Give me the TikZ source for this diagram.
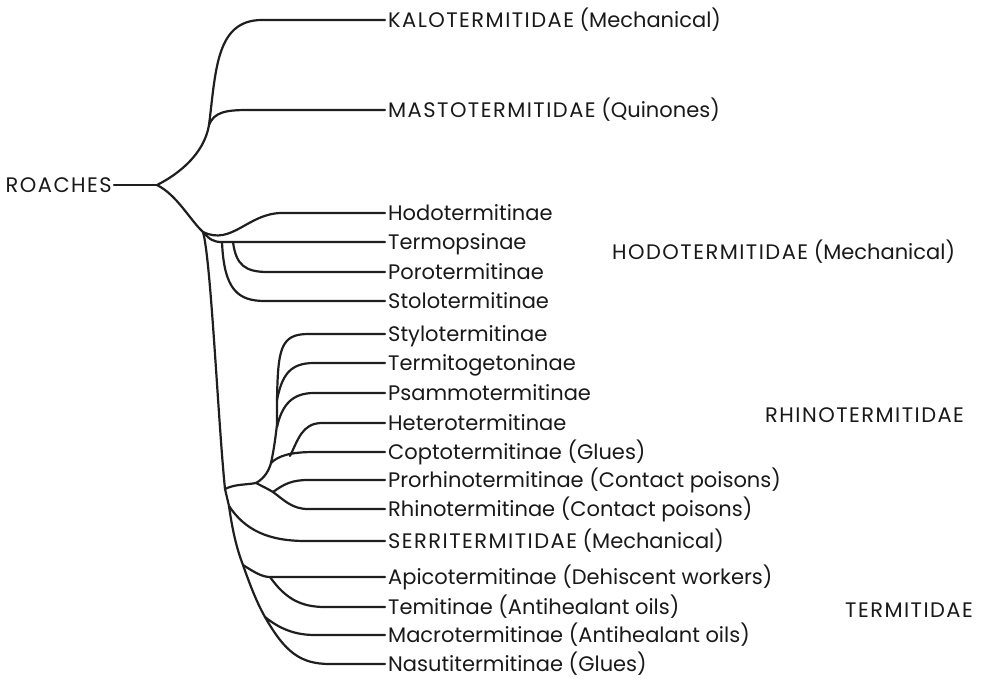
\documentclass[tikz,border=0pt]{standalone}
\usepackage{fontspec}
\setmainfont{Poppins}
\usetikzlibrary{positioning}
\newcommand{\famname}[1]{{\addfontfeatures{LetterSpace=7}#1}}

\begin{document}
\begin{tikzpicture}[x=1pt,y=-1pt,
    taxon/.style={anchor=west,inner sep=3pt,text height=14.5pt,text depth=0pt,
      text=black!90,font=\fontsize{21}{24}\selectfont},
    family/.style={taxon,inner sep=0pt},
    branch/.style={line width=2.2pt,line cap=round,draw=black!88}]
  \useasboundingbox (0,0) rectangle (987,678);
  % root
  \node[taxon,anchor=east,inner sep=2pt] (roaches) at (114,185) {\famname{ROACHES}};
  % leaves
  \node[taxon] (kalo) at (385,20) {\famname{KALOTERMITIDAE} (Mechanical)};
  \node[taxon] (masto) at (385,110) {\famname{MASTOTERMITIDAE} (Quinones)};
  \node[taxon] (hodo) at (385,213) {Hodotermitinae};
  \node[taxon] (termops) at (385,242) {Termopsinae};
  \node[taxon] (poro) at (385,272) {Porotermitinae};
  \node[taxon] (stolo) at (385,301) {Stolotermitinae};
  \node[taxon] (stylo) at (385,334) {Stylotermitinae};
  \node[taxon] (termitog) at (385,363) {Termitogetoninae};
  \node[taxon] (psammo) at (385,393) {Psammotermitinae};
  \node[taxon] (hetero) at (385,423) {Heterotermitinae};
  \node[taxon] (copto) at (385,452) {Coptotermitinae (Glues)};
  \node[taxon] (prorhino) at (385,480) {Prorhinotermitinae (Contact poisons)};
  \node[taxon] (rhino) at (385,509) {Rhinotermitinae (Contact poisons)};
  \node[taxon] (serri) at (385,541) {\famname{SERRITERMITIDAE} (Mechanical)};
  \node[taxon] (apico) at (385,577) {Apicotermitinae (Dehiscent workers)};
  \node[taxon] (temi) at (385,607) {Temitinae (Antihealant oils)};
  \node[taxon] (macro) at (385,635) {Macrotermitinae (Antihealant oils)};
  \node[taxon] (nasuti) at (385,664) {Nasutitermitinae (Glues)};
  % families
  \node[family] (hodofam) at (612,252) {\famname{HODOTERMITIDAE} (Mechanical)};
  \node[family] (rhinofam) at (765,415) {\famname{RHINOTERMITIDAE}};
  \node[family] (termfam) at (845,610) {\famname{TERMITIDAE}};
  % branch points
  \coordinate (r) at (157,185);
  \coordinate (m) at (209,125);
  \coordinate (h) at (203,232);
  \coordinate (t1) at (233,242);
  \coordinate (t2) at (222,242);
  \coordinate (k1) at (225,489);
  \coordinate (k2) at (229,506);
  \coordinate (k3) at (243,565);
  \coordinate (k4) at (265,617);
  \coordinate (a1) at (270,577);
  \coordinate (j1) at (256,483);
  \coordinate (j2) at (273,492);
  \coordinate (c1) at (271,463);
  \coordinate (c2) at (290,456);
  \coordinate (s1) at (277,427);
  \coordinate (s2) at (277,400);
  % upper part
  \draw[branch] (roaches.east) -- (r);
  \draw[branch] (r) .. controls (177,175) and (204,155) .. (m);
  \draw[branch] (m) .. controls (216,70) and (216,20) .. (262,20) -- (kalo.west);
  \draw[branch] (m) .. controls (214,112) and (226,110) .. (248,110) -- (masto.west);
  % hodotermitidae
  \draw[branch] (r) .. controls (177,195) and (190,220) .. (h);
  \draw[branch] (h) .. controls (232,246) and (248,213) .. (282,213) -- (hodo.west);
  \draw[branch] (h) .. controls (210,240) and (214,242) .. (t2) -- (termops.west);
  \draw[branch] (t1) .. controls (236,265) and (245,272) .. (268,272) -- (poro.west);
  \draw[branch] (t2) .. controls (224,290) and (238,301) .. (265,301) -- (stolo.west);
  % trunk
  \draw[branch] (h) .. controls (211,260) and (218,420) .. (k1) -- (k2);
  \draw[branch] (k2) .. controls (233,535) and (238,552) .. (k3);
  \draw[branch] (k3) .. controls (250,585) and (257,603) .. (k4);
  % rhinotermitidae
  \draw[branch] (k1) .. controls (235,484) and (245,485) .. (j1);
  \draw[branch] (j1) .. controls (265,478) and (269,470) .. (c1);
  \draw[branch] (c1) .. controls (276,440) and (277,420) .. (s1) -- (s2);
  \draw[branch] (s2) .. controls (278,350) and (280,334) .. (308,334) -- (stylo.west);
  \draw[branch] (s2) .. controls (282,375) and (290,363) .. (314,363) -- (termitog.west);
  \draw[branch] (s1) .. controls (282,405) and (292,393) .. (314,393) -- (psammo.west);
  \draw[branch] (c1) .. controls (278,456) and (290,452) .. (314,452) -- (copto.west);
  \draw[branch] (c2) .. controls (298,440) and (302,423) .. (322,423) -- (hetero.west);
  \draw[branch] (j1) .. controls (262,486) and (268,489) .. (j2);
  \draw[branch] (j2) .. controls (284,484) and (292,480) .. (308,480) -- (prorhino.west);
  \draw[branch] (j2) .. controls (284,500) and (292,509) .. (308,509) -- (rhino.west);
  % serritermitidae
  \draw[branch] (k2) .. controls (245,530) and (268,541) .. (306,541) -- (serri.west);
  % termitidae
  \draw[branch] (k3) .. controls (254,572) and (262,577) .. (a1) -- (apico.west);
  \draw[branch] (a1) .. controls (285,598) and (300,607) .. (325,607) -- (temi.west);
  \draw[branch] (k4) .. controls (280,629) and (295,635) .. (315,635) -- (macro.west);
  \draw[branch] (k4) .. controls (285,652) and (300,664) .. (330,664) -- (nasuti.west);
\end{tikzpicture}
\end{document}
